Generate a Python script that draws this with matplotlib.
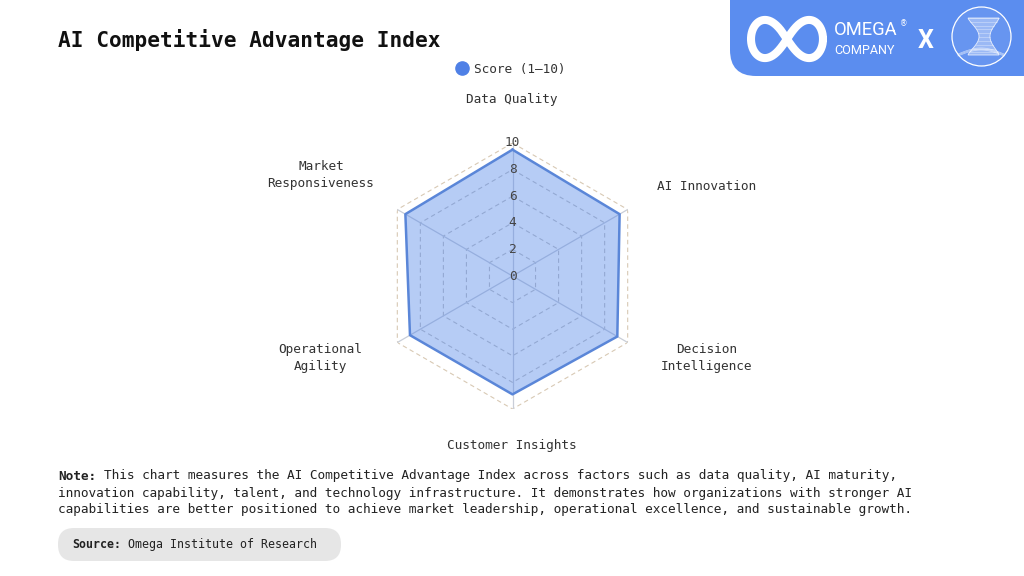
import numpy as np
import matplotlib
matplotlib.use("Agg")
import matplotlib.pyplot as plt
from matplotlib.patches import FancyBboxPatch, Circle, Polygon
from matplotlib.lines import Line2D

# ---------------- data ----------------
categories = ["Data Quality", "AI Innovation", "Decision\nIntelligence",
              "Customer Insights", "Operational\nAgility", "Market\nResponsiveness"]
scores = [9.5, 9.3, 9.1, 8.9, 8.9, 9.3]
r_ticks = [0, 2, 4, 6, 8, 10]
series_label = "Score (1–10)"
title = "AI Competitive Advantage Index"
note_lines = [
    "Note: This chart measures the AI Competitive Advantage Index across factors such as data quality, AI maturity,",
    "innovation capability, talent, and technology infrastructure. It demonstrates how organizations with stronger AI",
    "capabilities are better positioned to achieve market leadership, operational excellence, and sustainable growth.",
]
source_text = "Omega Institute of Research"

MONO = ["DejaVu Sans Mono"]
W, H = 1024, 576
CW = 0.602 * 100 / 72  # monospace advance in px per pt

fig = plt.figure(figsize=(W / 100, H / 100), dpi=100)
fig.patch.set_facecolor("white")

# decoration layer in pixel coordinates
deco = fig.add_axes([0, 0, 1, 1], zorder=0)
deco.set_xlim(0, W)
deco.set_ylim(H, 0)
deco.axis("off")

# ---- logo banner ----
blue = "#5b8def"
deco.add_patch(FancyBboxPatch((730, -60), 360, 136,
                              boxstyle="round,pad=0,rounding_size=26",
                              fc=blue, ec="none"))
t = np.linspace(0, 2 * np.pi, 400)
a = 36
den = 1 + np.sin(t) ** 2
deco.plot(787 + a * np.cos(t) / den, 39 + 1.5 * a * np.sin(t) * np.cos(t) / den,
          color="white", lw=5.8, solid_capstyle="round")
deco.text(834, 35, "OMEGA", color="white", fontsize=13.2, family="Roboto",
          ha="left", va="baseline")
deco.text(834, 54, "COMPANY", color="white", fontsize=9.1, family="Roboto",
          ha="left", va="baseline")
deco.text(900, 24, "®", color="white", fontsize=5.5, family="DejaVu Sans",
          ha="left", va="center")
deco.text(926, 41, "X", color="white", fontsize=18, family="Roboto",
          fontweight="bold", ha="center", va="center")
deco.add_patch(Circle((981.5, 36.5), 29.5, fc=(1, 1, 1, 0.08), ec="white", lw=0.9))
# hourglass mesh
yy = np.linspace(18, 55, 30)
xl = 968 + 11 * np.sin((yy - 18) / 37 * np.pi) ** 1.3
xr = 999 - 9 * np.sin((yy - 18) / 37 * np.pi) ** 1.3
deco.add_patch(Polygon(np.column_stack([np.r_[xl, xr[::-1]], np.r_[yy, yy[::-1]]]),
                       closed=True, fc=(1, 1, 1, 0.35), ec=(1, 1, 1, 0.8), lw=0.6))
for k in range(0, 30, 3):
    deco.plot([xl[k], xr[k]], [yy[k], yy[k]], color=(1, 1, 1, 0.55), lw=0.4)
sw = np.linspace(958, 1004, 50)
for off in (0, 2.5, 5):
    deco.plot(sw, 56 - 6 * np.sin((sw - 958) / 46 * np.pi) - 0.4 * off,
              color=(1, 1, 1, 0.6), lw=0.5)

# ---- title ----
deco.text(58, 40, title, fontsize=15.2, fontweight="bold", family=MONO,
          color="#111111", ha="left", va="center")

# ---- note ----
NFS = 9.15
for i, line in enumerate(note_lines):
    y = 476 + 17 * i
    if i == 0:
        deco.text(58, y, "Note:", fontsize=NFS, fontweight="bold", family=MONO,
                  color="#222222", ha="left", va="center")
        deco.text(58 + 6 * CW * NFS, y, line[6:], fontsize=NFS, family=MONO,
                  color="#222222", ha="left", va="center")
    else:
        deco.text(58, y, line, fontsize=NFS, family=MONO,
                  color="#222222", ha="left", va="center")

# ---- source pill ----
SFS = 8.4
deco.add_patch(FancyBboxPatch((58, 528), 283, 33,
                              boxstyle="round,pad=0,rounding_size=16",
                              fc="#e6e6e6", ec="none"))
deco.text(72, 544.5, "Source:", fontsize=SFS, fontweight="bold", family=MONO,
          color="#222222", ha="left", va="center")
deco.text(72 + 8 * CW * SFS, 544.5, source_text, fontsize=SFS, family=MONO,
          color="#222222", ha="left", va="center")

# ---------------- radar ----------------
cx, cy, R = 512.5, 276, 133
ax = fig.add_axes([(cx - R) / W, (H - cy - R) / H, 2 * R / W, 2 * R / H],
                  projection="polar", zorder=1)
ax.patch.set_visible(False)
ax.set_theta_zero_location("N")
ax.set_theta_direction(-1)
ax.set_ylim(0, 10)
ax.grid(False)
ax.spines["polar"].set_visible(False)
ax.set_xticks([])
ax.set_yticks([])

n = len(categories)
angles = np.arange(n) * 2 * np.pi / n
closed = np.r_[angles, angles[0]]

for r in r_ticks[1:]:
    col = "#d8c9b4" if r == r_ticks[-1] else "#c4c4c4"
    ax.plot(closed, [r] * (n + 1), ls=(0, (4, 3)), color=col, lw=0.8, zorder=1)
for ang in angles:
    ax.plot([ang, ang], [0, r_ticks[-1]], color="#c9ced8", lw=0.9, zorder=1)

vals = np.r_[scores, scores[0]]
ax.fill(closed, vals, color="#4a80e8", alpha=0.4, lw=0, zorder=2)
ax.plot(closed, vals, color="#5a86d8", lw=1.8, zorder=3)

for r in r_ticks:
    ax.text(0, r, str(r), fontsize=9.2, family=MONO, color="#444444",
            ha="center", va="center", zorder=4)

# point labels
label_px = [(512, 99), (707, 187), (707, 358), (512, 446), (320, 358), (321, 175)]
for lab, (px, py) in zip(categories, label_px):
    deco.text(px, py, lab, fontsize=9.2, family=MONO, color="#333333",
              ha="center", va="center", linespacing=1.33)

# legend
handle = Line2D([], [], marker="o", ls="", color="#4f80e6", markersize=9.5)
leg = fig.legend([handle], [series_label], loc="center",
                 bbox_to_anchor=(510 / W, 1 - 69 / H), frameon=False,
                 handletextpad=0.4, handlelength=1.2,
                 prop={"family": MONO, "size": 9.2})
for txt in leg.get_texts():
    txt.set_color("#333333")

fig.savefig("out.png", dpi=100)
